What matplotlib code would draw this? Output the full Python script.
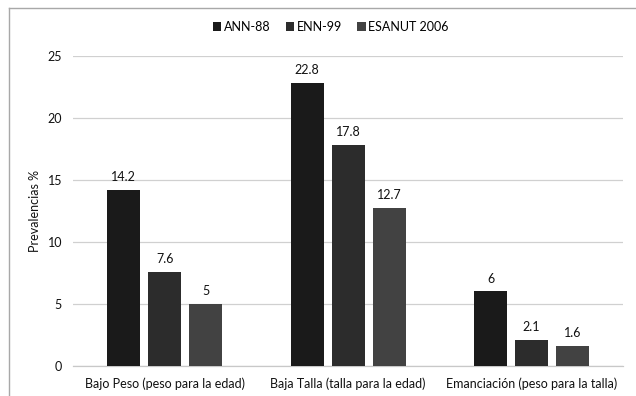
import matplotlib
matplotlib.use("Agg")
import matplotlib.pyplot as plt
from matplotlib.lines import Line2D
import numpy as np

categories = ["Bajo Peso (peso para la edad)", "Baja Talla (talla para la edad)",
              "Emanciación (peso para la talla)"]
series_names = ["ANN-88", "ENN-99", "ESANUT 2006"]
ann88 = [14.2, 22.8, 6]
enn99 = [7.6, 17.8, 2.1]
esanut2006 = [5, 12.7, 1.6]
yticks = [0, 5, 10, 15, 20, 25]

plt.rcParams["font.family"] = ["Lato", "DejaVu Sans"]

fig = plt.figure(figsize=(6.36, 3.96), dpi=100)
ax = fig.add_axes([0.115, 0.076, 0.865, 0.783])

colors = ["#1a1a1a", "#2c2c2c", "#424242"]
txt = "#111111"
fs = 9
x = np.arange(len(categories))
width = 0.18
step = 0.224
for i, (vals, name, c) in enumerate(zip([ann88, enn99, esanut2006], series_names, colors)):
    bars = ax.bar(x + (i - 1) * step, vals, width, color=c, label=name, zorder=3)
    ax.bar_label(bars, labels=[f"{v:g}" for v in vals], padding=5, fontsize=fs,
                 color=txt)

ax.set_xlim(-0.5, 2.5)
ax.set_ylim(0, 25)
ax.set_yticks(yticks)
ax.set_xticks(x)
ax.set_xticklabels(categories, fontsize=fs, color=txt)
ax.tick_params(axis="y", labelsize=fs, colors=txt, length=0, pad=8)
ax.tick_params(axis="x", length=0, pad=8)
ax.yaxis.grid(True, color="#d0d0d0", linewidth=0.9, zorder=0)
for s in ["top", "right", "left"]:
    ax.spines[s].set_visible(False)
ax.spines["bottom"].set_color("#c8c8c8")
ax.spines["bottom"].set_linewidth(0.9)
ax.set_ylabel("Prevalencias %", fontsize=fs, color=txt, labelpad=5)

fig.legend(loc="center", bbox_to_anchor=(0.52, 0.932), ncol=3, frameon=False,
           fontsize=fs, handlelength=0.7, handleheight=0.7, handletextpad=0.2,
           columnspacing=1.2)

# frame lines along the top and left edge
fig.add_artist(Line2D([9 / 636, 1], [1 - 8 / 396, 1 - 8 / 396], color="#a8a8a8", lw=1.0))
fig.add_artist(Line2D([9 / 636, 9 / 636], [0, 1 - 8 / 396], color="#a8a8a8", lw=1.0))

fig.savefig("out.png", dpi=100, facecolor="white")
